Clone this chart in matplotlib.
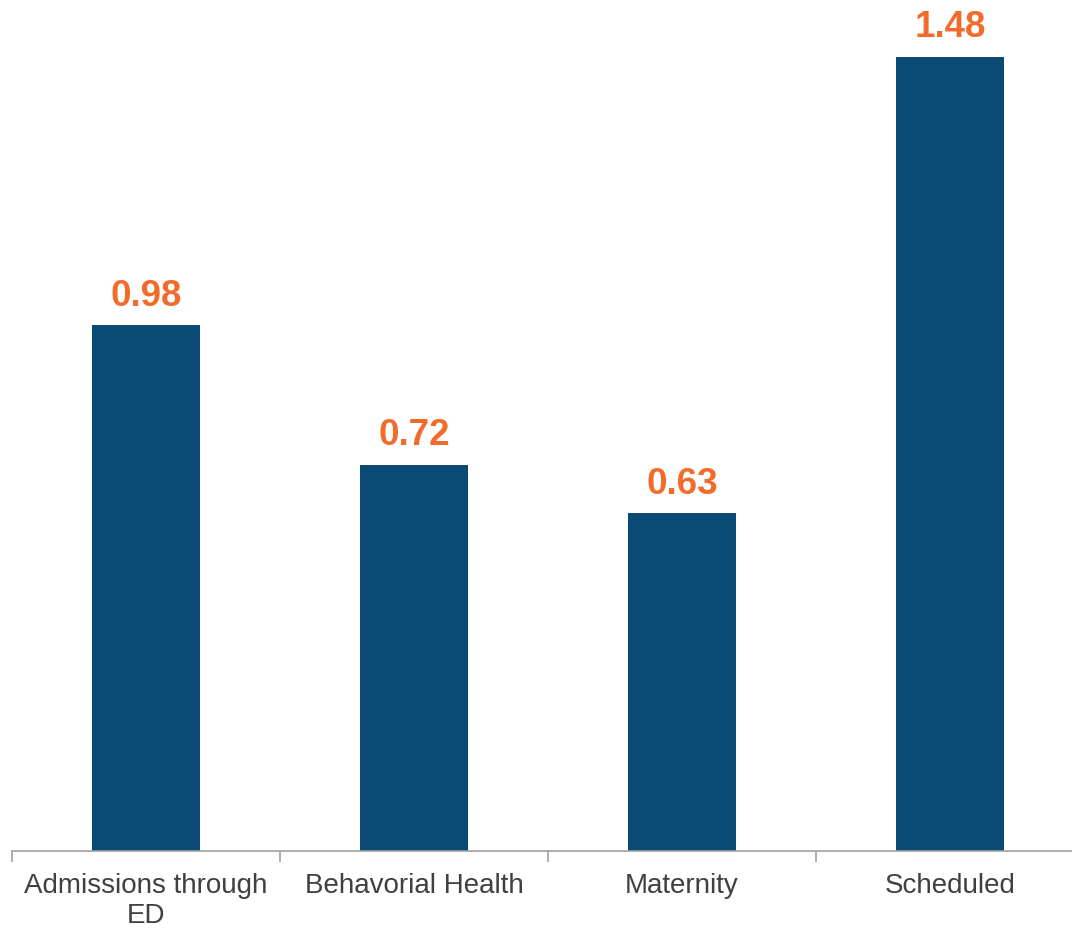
import matplotlib
matplotlib.use("Agg")
import matplotlib.pyplot as plt

plt.rcParams['font.family'] = ['Liberation Sans', 'DejaVu Sans']

# dados do grafico
categorias = ["Admissions through\nED", "Behavorial Health", "Maternity", "Scheduled"]
valores = [0.98, 0.72, 0.63, 1.48]

cor_barra = "#0B4A75"
cor_rotulo = "#F26B2B"

fig = plt.figure(figsize=(10.72, 9.29), dpi=100)
ax = fig.add_axes([12/1072, 77/929, 1072/1072, 852/929])

x = range(len(categorias))
barras = ax.bar(x, valores, width=0.4, color=cor_barra)

for xi, v in zip(x, valores):
    ax.annotate(f"{v:.2f}", (xi, v), xytext=(0, 9), textcoords="offset points",
                ha="center", va="bottom", fontsize=26.5, fontweight="bold", color=cor_rotulo)

ax.set_xlim(-0.5, 3.5)
ax.set_ylim(0, 852/536.5)

# ticks nas fronteiras das categorias
ax.set_xticks([i - 0.5 for i in range(4)])
ax.set_xticks(list(x), minor=True)
ax.set_xticklabels([])
ax.set_xticklabels(categorias, minor=True, fontsize=20, color="#404040")
ax.tick_params(axis="x", which="major", length=8, width=1.2, color="#A0A0A0", direction="out")
ax.tick_params(axis="x", which="minor", length=0, pad=15)
ax.set_yticks([])

for s in ["top", "right", "left"]:
    ax.spines[s].set_visible(False)
ax.spines["bottom"].set_color("#A0A0A0")
ax.spines["bottom"].set_linewidth(1.2)

fig.savefig("out.png", dpi=100)
